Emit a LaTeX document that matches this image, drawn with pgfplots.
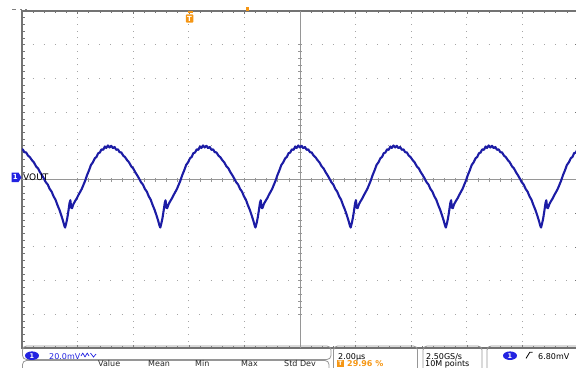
\documentclass[border=0pt]{standalone}
\usepackage{pgfplots}
\pgfplotsset{compat=1.18}
\usepackage{fontspec}
\setmainfont{DejaVu Sans}

\definecolor{trace}{RGB}{28,28,165}
\definecolor{chblue}{RGB}{35,35,225}
\definecolor{trigorange}{RGB}{245,150,20}
\definecolor{framegray}{RGB}{115,115,115}
\definecolor{gridgray}{RGB}{165,165,165}
\definecolor{crossgray}{RGB}{150,150,150}
\definecolor{boxgray}{RGB}{150,150,150}

% VOUT, 2 us/div, 20 mV/div
\pgfplotstableread{
t v
-10.034 17.6
-9.974 17.9
-9.914 16.2
-9.854 16.1
-9.784 14.2
-9.714 13.2
-9.644 11.5
-9.574 10.2
-9.494 7.8
-9.424 6.6
-9.354 4.4
-9.284 2.6
-9.214 0.6
-9.144 -1.6
-9.074 -3.0
-9.004 -5.6
-8.934 -7.2
-8.864 -10.0
-8.794 -12.0
-8.724 -15.2
-8.654 -18.0
-8.584 -21.4
-8.524 -24.6
-8.474 -27.6
-8.450 -28.5
-8.410 -26.0
-8.370 -22.8
-8.330 -18.6
-8.290 -14.0
-8.260 -12.3
-8.230 -16.8
-8.200 -17.0
-8.150 -14.6
-8.090 -12.8
-8.030 -11.2
-7.970 -9.2
-7.910 -7.4
-7.850 -5.6
-7.790 -3.2
-7.730 -0.8
-7.660 2.6
-7.590 5.4
-7.520 8.6
-7.450 10.2
-7.380 12.6
-7.320 13.4
-7.260 15.6
-7.200 16.0
-7.140 17.9
-7.080 17.6
-7.020 19.6
-6.970 18.7
-6.910 20.2
-6.850 19.0
-6.790 20.0
-6.730 18.6
-6.670 19.3
-6.610 17.6
-6.550 17.9
-6.490 16.2
-6.430 16.1
-6.360 14.2
-6.290 13.2
-6.220 11.5
-6.150 10.2
-6.070 7.8
-6.000 6.6
-5.930 4.4
-5.860 2.6
-5.790 0.6
-5.720 -1.6
-5.650 -3.0
-5.580 -5.6
-5.510 -7.2
-5.440 -10.0
-5.370 -12.0
-5.300 -15.2
-5.230 -18.0
-5.160 -21.4
-5.100 -24.6
-5.050 -27.6
-5.026 -28.5
-4.986 -26.0
-4.946 -22.8
-4.906 -18.6
-4.866 -14.0
-4.836 -12.3
-4.806 -16.8
-4.776 -17.0
-4.726 -14.6
-4.666 -12.8
-4.606 -11.2
-4.546 -9.2
-4.486 -7.4
-4.426 -5.6
-4.366 -3.2
-4.306 -0.8
-4.236 2.6
-4.166 5.4
-4.096 8.6
-4.026 10.2
-3.956 12.6
-3.896 13.4
-3.836 15.6
-3.776 16.0
-3.716 17.9
-3.656 17.6
-3.596 19.6
-3.546 18.7
-3.486 20.2
-3.426 19.0
-3.366 20.0
-3.306 18.6
-3.246 19.3
-3.186 17.6
-3.126 17.9
-3.066 16.2
-3.006 16.1
-2.936 14.2
-2.866 13.2
-2.796 11.5
-2.726 10.2
-2.646 7.8
-2.576 6.6
-2.506 4.4
-2.436 2.6
-2.366 0.6
-2.296 -1.6
-2.226 -3.0
-2.156 -5.6
-2.086 -7.2
-2.016 -10.0
-1.946 -12.0
-1.876 -15.2
-1.806 -18.0
-1.736 -21.4
-1.676 -24.6
-1.626 -27.6
-1.602 -28.5
-1.562 -26.0
-1.522 -22.8
-1.482 -18.6
-1.442 -14.0
-1.412 -12.3
-1.382 -16.8
-1.352 -17.0
-1.302 -14.6
-1.242 -12.8
-1.182 -11.2
-1.122 -9.2
-1.062 -7.4
-1.002 -5.6
-0.942 -3.2
-0.882 -0.8
-0.812 2.6
-0.742 5.4
-0.672 8.6
-0.602 10.2
-0.532 12.6
-0.472 13.4
-0.412 15.6
-0.352 16.0
-0.292 17.9
-0.232 17.6
-0.172 19.6
-0.122 18.7
-0.062 20.2
-0.002 19.0
0.058 20.0
0.118 18.6
0.178 19.3
0.238 17.6
0.298 17.9
0.358 16.2
0.418 16.1
0.488 14.2
0.558 13.2
0.628 11.5
0.698 10.2
0.778 7.8
0.848 6.6
0.918 4.4
0.988 2.6
1.058 0.6
1.128 -1.6
1.198 -3.0
1.268 -5.6
1.338 -7.2
1.408 -10.0
1.478 -12.0
1.548 -15.2
1.618 -18.0
1.688 -21.4
1.748 -24.6
1.798 -27.6
1.822 -28.5
1.862 -26.0
1.902 -22.8
1.942 -18.6
1.982 -14.0
2.012 -12.3
2.042 -16.8
2.072 -17.0
2.122 -14.6
2.182 -12.8
2.242 -11.2
2.302 -9.2
2.362 -7.4
2.422 -5.6
2.482 -3.2
2.542 -0.8
2.612 2.6
2.682 5.4
2.752 8.6
2.822 10.2
2.892 12.6
2.952 13.4
3.012 15.6
3.072 16.0
3.132 17.9
3.192 17.6
3.252 19.6
3.302 18.7
3.362 20.2
3.422 19.0
3.482 20.0
3.542 18.6
3.602 19.3
3.662 17.6
3.722 17.9
3.782 16.2
3.842 16.1
3.912 14.2
3.982 13.2
4.052 11.5
4.122 10.2
4.202 7.8
4.272 6.6
4.342 4.4
4.412 2.6
4.482 0.6
4.552 -1.6
4.622 -3.0
4.692 -5.6
4.762 -7.2
4.832 -10.0
4.902 -12.0
4.972 -15.2
5.042 -18.0
5.112 -21.4
5.172 -24.6
5.222 -27.6
5.246 -28.5
5.286 -26.0
5.326 -22.8
5.366 -18.6
5.406 -14.0
5.436 -12.3
5.466 -16.8
5.496 -17.0
5.546 -14.6
5.606 -12.8
5.666 -11.2
5.726 -9.2
5.786 -7.4
5.846 -5.6
5.906 -3.2
5.966 -0.8
6.036 2.6
6.106 5.4
6.176 8.6
6.246 10.2
6.316 12.6
6.376 13.4
6.436 15.6
6.496 16.0
6.556 17.9
6.616 17.6
6.676 19.6
6.726 18.7
6.786 20.2
6.846 19.0
6.906 20.0
6.966 18.6
7.026 19.3
7.086 17.6
7.146 17.9
7.206 16.2
7.266 16.1
7.336 14.2
7.406 13.2
7.476 11.5
7.546 10.2
7.626 7.8
7.696 6.6
7.766 4.4
7.836 2.6
7.906 0.6
7.976 -1.6
8.046 -3.0
8.116 -5.6
8.186 -7.2
8.256 -10.0
8.326 -12.0
8.396 -15.2
8.466 -18.0
8.536 -21.4
8.596 -24.6
8.646 -27.6
8.670 -28.5
8.710 -26.0
8.750 -22.8
8.790 -18.6
8.830 -14.0
8.860 -12.3
8.890 -16.8
8.920 -17.0
8.970 -14.6
9.030 -12.8
9.090 -11.2
9.150 -9.2
9.210 -7.4
9.270 -5.6
9.330 -3.2
9.390 -0.8
9.460 2.6
9.530 5.4
9.600 8.6
9.670 10.2
9.740 12.6
9.800 13.4
9.860 15.6
9.920 16.0
9.980 17.9
10.040 17.6
}\vout

\pgfplotsset{
  scopegeom/.style={
    at={(22bp,19bp)}, anchor=south west,
    scale only axis, width=556bp, height=337bp,
    xmin=-10, xmax=10, ymin=-100, ymax=100,
    xticklabels={}, yticklabels={},
  },
}

\begin{document}
\begin{tikzpicture}[x=1bp,y=1bp]
\useasboundingbox (0,0) rectangle (576,367);

% graticule frame and dotted grid
\begin{axis}[scopegeom,
  xtick={-10,-8,...,10}, ytick={-100,-80,...,100},
  minor x tick num=4, minor y tick num=4,
  tick align=inside,
  major tick length=3bp, minor tick length=2.5bp,
  tick style={framegray, line width=0.6bp},
  axis line style={framegray, line width=1.3bp},
  grid=major,
  major x grid style={gridgray, line width=1bp, dash pattern=on 1bp off 5.74bp, dash phase=0.5bp},
  major y grid style={gridgray, line width=1bp, dash pattern=on 1bp off 10.12bp, dash phase=0.5bp},
]
\end{axis}

% centre crosshair with subdivision ticks
\begin{axis}[scopegeom,
  axis lines=middle,
  axis line style={-, crossgray, line width=0.8bp},
  xtick={-8,-6,...,8}, ytick={-80,-60,...,80},
  minor x tick num=4, minor y tick num=4,
  tick align=center,
  major tick length=4bp, minor tick length=4bp,
  tick style={crossgray, line width=0.6bp},
]
\end{axis}

% channel 1 trace
\begin{axis}[scopegeom, hide axis, clip=true]
\addplot[trace, line width=2.1bp, line join=round, no markers] table[x=t, y=v] {\vout};
\end{axis}

% channel 1 marker and label
\fill[chblue] (11.5,185) -- (18.5,185) -- (21.5,189.5) -- (18.5,194.5) -- (11.5,194.5) -- cycle;
\node[text=white, font=\fontsize{7bp}{8bp}\selectfont\bfseries, inner sep=0pt] at (15.3,189.7) {1};
\node[anchor=west, inner sep=0pt, font=\fontsize{9bp}{10bp}\selectfont] at (23,189.5) {VOUT};

% trigger position marker
\fill[trigorange] (187.5,353.5) rectangle (192.5,355.5);
\fill[trigorange, rounded corners=1bp] (185.8,344.3) rectangle (193.4,352.7);
\node[text=white, font=\fontsize{7bp}{8bp}\selectfont\bfseries, inner sep=0pt] at (189.6,348.5) {T};
\fill[trigorange] (245.5,356) rectangle (248.5,359.5);
\fill[gray] (12,356.5) rectangle (16,357.5);
\fill[gray] (20,356.5) rectangle (22,357.5);
\fill[gray] (25,356.5) rectangle (27,357.5);

% readout boxes
\begin{scope}[boxgray, line width=0.8bp, rounded corners=4bp]
\draw (22.5,7.5) rectangle (331,21);
\draw (22.5,-8) rectangle (329,6.5);
\draw (333.5,-8) rectangle (417.5,21);
\draw (423,-8) rectangle (482,21);
\draw (487,-8) rectangle (590,21);
\end{scope}

\begin{scope}[font=\fontsize{8bp}{9bp}\selectfont]
% channel 1 scale
\fill[chblue] (32,11.3) ellipse (7bp and 4.3bp);
\node[text=white, font=\fontsize{6.5bp}{7bp}\selectfont\bfseries, inner sep=0pt] at (32,11.3) {1};
\node[anchor=base west, inner sep=0pt, text=chblue] at (49,8) {20.0mV};
\draw[chblue, line width=0.7bp, line join=round] (81,11) -- (82.8,14) -- (85,10) -- (87.2,14) -- (89,11);
\draw[chblue, line width=0.7bp] (90.5,14) -- (93.5,10) -- (96,13);
% measurement header
\node[anchor=base west, inner sep=0pt, text=black!85] at (98,0.5) {Value};
\node[anchor=base west, inner sep=0pt, text=black!85] at (148,0.5) {Mean};
\node[anchor=base west, inner sep=0pt, text=black!85] at (195,0.5) {Min};
\node[anchor=base west, inner sep=0pt, text=black!85] at (241,0.5) {Max};
\node[anchor=base west, inner sep=0pt, text=black!85] at (284,0.5) {Std Dev};
% horizontal
\node[anchor=base west, inner sep=0pt] at (338,8) {2.00µs};
\fill[trigorange] (337,0.5) rectangle (343.5,7);
\node[text=white, font=\fontsize{6bp}{7bp}\selectfont\bfseries, inner sep=0pt] at (340.3,3.7) {T};
\node[anchor=base west, inner sep=0pt, text=trigorange, font=\fontsize{8bp}{9bp}\selectfont\bfseries] at (347,0.8) {29.96 \%};
% acquisition
\node[anchor=base west, inner sep=0pt] at (426,8) {2.50GS/s};
\node[anchor=base west, inner sep=0pt] at (425,0.4) {10M points};
% trigger
\fill[chblue] (510,11.3) ellipse (7bp and 4.3bp);
\node[text=white, font=\fontsize{6.5bp}{7bp}\selectfont\bfseries, inner sep=0pt] at (510,11.3) {1};
\draw[black, line width=0.8bp] (526,8.6) -- (529.8,14.8) -- (532.5,14.8);
\node[anchor=base west, inner sep=0pt] at (538,8) {6.80mV};
\end{scope}
\end{tikzpicture}
\end{document}
